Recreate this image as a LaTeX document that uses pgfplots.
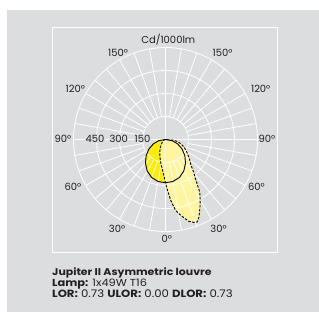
\documentclass[border=0pt]{standalone}
\usepackage{pgfplots}
\pgfplotsset{compat=1.18}
\usepackage{pgfplotstable}
\usepackage{fontspec}
\setmainfont{Poppins}
\newfontfamily\widefont[FakeStretch=1.12]{Poppins}
\definecolor{bg}{HTML}{DCDDDF}
\definecolor{yel}{HTML}{FFED00}
\definecolor{lyel}{HTML}{FFF59E}
\definecolor{txt}{HTML}{231F20}

\pgfplotstableread{
g I
-90 0
-80 45
-70 85
-60 125
-50 165
-40 203
-30 238
-20 264
-10 278
0 282
10 278
20 264
30 238
40 203
50 165
60 125
70 85
80 45
90 0
}\solid

\pgfplotstableread{
g I
-90 0
-80 4
-70 10
-60 17
-50 28
-40 45
-30 70
-25 88
-20 108
-15 133
-10 165
-5 205
-2 243
0 282
2 325
5 400
8 465
10 490
13 522
16 555
19 572
21 576
23 555
25 525
27 495
30 452
33 410
36 345
38 312
40 290
45 235
50 205
55 180
60 160
65 140
70 120
75 100
80 80
85 55
90 0
}\dashed

\pgfplotsset{photo/.style={at={(0,0)}, anchor=south west, x=0.1533bp, y=0.1533bp,
  xmin=-1079.6, xmax=1001.3, ymin=-1125.2, ymax=910.0, hide axis, clip=false}}

\begin{document}
\begin{tikzpicture}[x=1bp,y=1bp]
\useasboundingbox (0,0) rectangle (319,312);
\fill[white] (0,0) rectangle (319,312);
\fill[bg] (7,0) rectangle (319,302);
\draw[white, line width=1.5bp] (52.5,59.5) rectangle (277.5,284.5);
\begin{axis}[photo]
\addplot[fill=yel, draw=none, data cs=polar] table[x expr=\thisrow{g}-90, y=I] {\solid};
\addplot[fill=lyel, draw=none, data cs=polar] table[x expr=\thisrow{g}-90, y=I] {\dashed};
\end{axis}
\begin{scope}[shift={(165.5,172.5)}, white, line width=0.8bp]
\foreach \r in {23,46,69,92} \draw (0,0) circle[radius=\r];
\foreach \a in {0,10,...,350} \draw (\a:23) -- (\a:92);
\draw (-92,0) -- (92,0);
\draw (0,-92) -- (0,92);
\end{scope}
\begin{axis}[photo]
\addplot[black, line width=0.9bp, data cs=polar] table[x expr=\thisrow{g}-90, y=I] {\solid};
\addplot[black, line width=0.9bp, dash pattern=on 2.5bp off 1.5bp, data cs=polar] table[x expr=\thisrow{g}-90, y=I] {\dashed};
\end{axis}
\begin{scope}[every node/.style={text=txt, font=\fontsize{10}{12}\selectfont, inner sep=0.5bp}]
\node at (168.3,272.3) {Cd/1000lm};
\node at (118,258.7) {150°};
\node at (222.5,258.7) {150°};
\node at (75.3,222.7) {120°};
\node at (260.7,222.7) {120°};
\node at (63,172.7) {90°};
\node at (267,172.7) {90°};
\node at (73,125.3) {60°};
\node at (256.5,125.3) {60°};
\node at (117,82.7) {30°};
\node at (218.5,82.7) {30°};
\node at (166.7,72.7) {0°};
\node[fill=bg] at (95,172.7) {450};
\node[fill=bg] at (118.8,172.7) {300};
\node[fill=bg] at (142.5,172.7) {150};
\end{scope}
\begin{scope}[every node/.style={text=txt, inner sep=0pt, anchor=base west}]
\node[font=\widefont\fontsize{9.8}{12}\selectfont] at (52,37) {\bfseries Jupiter II Asymmetric louvre};
\node[font=\widefont\fontsize{10.2}{12}\selectfont] at (52,25.3) {\bfseries Lamp:\mdseries{} 1x49W T16};
\node[font=\widefont\fontsize{10.5}{12}\selectfont] at (52,14.7) {\bfseries LOR:\mdseries{} 0.73 \bfseries ULOR:\mdseries{} 0.00 \bfseries DLOR:\mdseries{} 0.73};
\end{scope}
\end{tikzpicture}
\end{document}
